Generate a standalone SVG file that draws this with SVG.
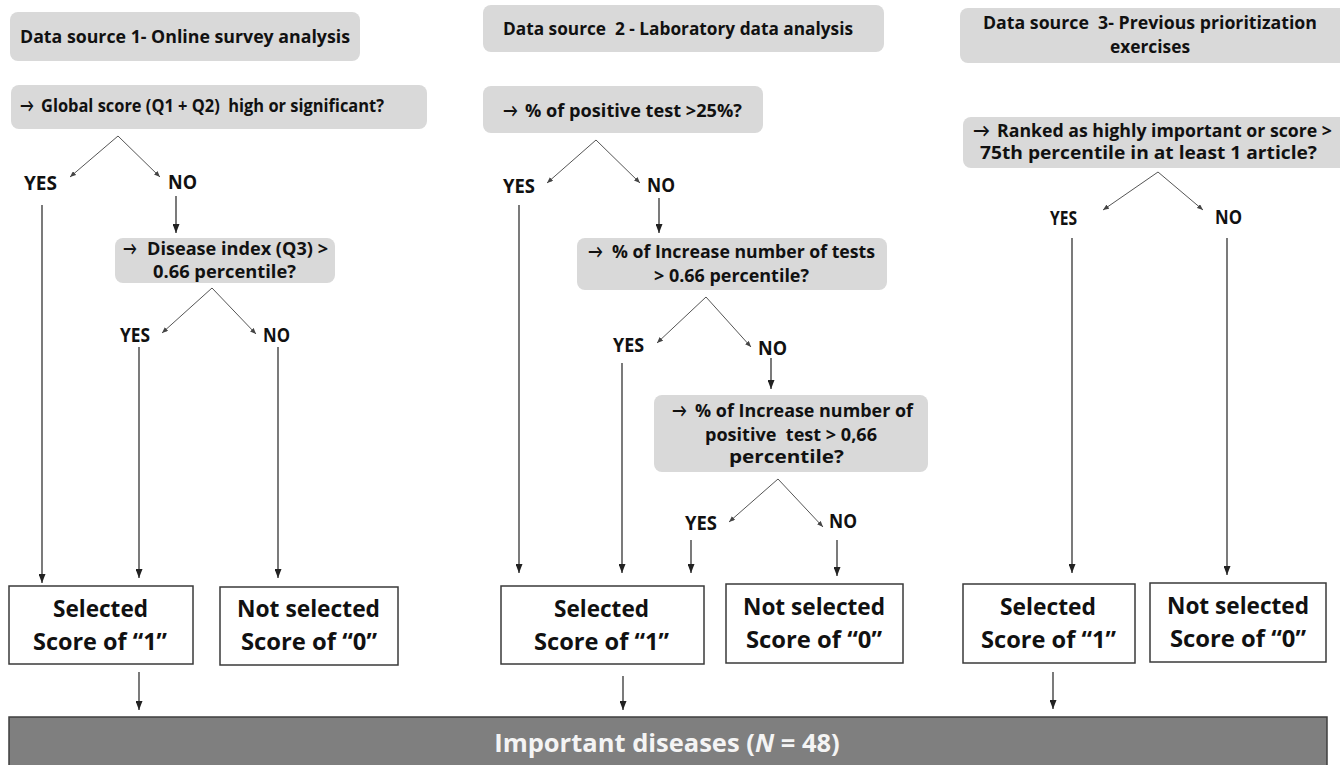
<svg xmlns="http://www.w3.org/2000/svg" width="1340" height="765" viewBox="0 0 1340 765">
<style>
.bg{fill:#ffffff}
.g{fill:#d9d9d9}
.res{fill:#ffffff;stroke:#3a3a3a;stroke-width:1.5}
.bar{fill:#7f7f7f;stroke:#3f3f3f;stroke-width:1.5}
.t{font-family:"Open Sans","Liberation Sans",sans-serif;font-weight:700;fill:#111111;white-space:pre}
.ar{font-family:Lato,"DejaVu Sans",sans-serif;font-weight:700;font-size:18px;fill:#111111}
.h{font-size:18px}
.q{font-size:18px}
.yn{font-size:19px}
.r{font-size:22.5px}
.bt{font-size:25.5px;fill:#f4f4f4}
.v{stroke:#333333;stroke-width:1.3;fill:none;marker-end:url(#ah)}
.d{stroke:#555555;stroke-width:1;fill:none;marker-end:url(#as)}
</style>
<defs>
<marker id="ah" viewBox="0 0 9 7" refX="9" refY="3.5" markerWidth="9" markerHeight="7" markerUnits="userSpaceOnUse" orient="auto">
<path d="M0,0 L9,3.5 L0,7 z" fill="#222222"/>
</marker>
<marker id="as" viewBox="0 0 6 5" refX="6" refY="2.5" markerWidth="6" markerHeight="5" markerUnits="userSpaceOnUse" orient="auto">
<path d="M0,0 L6,2.5 L0,5 z" fill="#444444"/>
</marker>
</defs>
<rect class="bg" x="0" y="0" width="1340" height="765"/>

<g id="h1"><rect class="g" x="10" y="12" width="350" height="49" rx="8"/>
<text class="t h" x="20" y="43" textLength="330" lengthAdjust="spacingAndGlyphs">Data source 1- Online survey analysis</text></g>
<g id="q1"><rect class="g" x="11" y="85" width="416" height="44" rx="8"/>
<text class="ar" x="20" y="112" textLength="14" lengthAdjust="spacingAndGlyphs">→</text>
<text class="t q" x="41" y="112" textLength="343" lengthAdjust="spacingAndGlyphs">Global score (Q1 + Q2)  high or significant?</text></g>
<g id="yes1"><text class="t yn" x="24" y="190" textLength="33" lengthAdjust="spacingAndGlyphs">YES</text></g>
<g id="no1"><text class="t yn" x="168" y="189" textLength="29" lengthAdjust="spacingAndGlyphs">NO</text></g>
<g id="q1b"><rect class="g" x="115" y="238" width="220" height="45" rx="8"/>
<text class="ar" x="123" y="255" textLength="14" lengthAdjust="spacingAndGlyphs">→</text>
<text class="t q" x="147" y="255" textLength="181" lengthAdjust="spacingAndGlyphs">Disease index (Q3) &gt;</text>
<text class="t q" x="153" y="278" textLength="143" lengthAdjust="spacingAndGlyphs">0.66 percentile?</text></g>
<g id="yes1b"><text class="t yn" x="120" y="342" textLength="30" lengthAdjust="spacingAndGlyphs">YES</text></g>
<g id="no1b"><text class="t yn" x="263" y="342" textLength="27" lengthAdjust="spacingAndGlyphs">NO</text></g>
<g id="sel1"><rect class="res" x="9" y="586" width="184" height="78"/>
<text class="t r" x="53" y="617" textLength="95" lengthAdjust="spacingAndGlyphs">Selected</text>
<text class="t r" x="33" y="650" textLength="134" lengthAdjust="spacingAndGlyphs">Score of “1”</text></g>
<g id="not1"><rect class="res" x="220" y="587" width="178" height="78"/>
<text class="t r" x="237" y="617" textLength="143" lengthAdjust="spacingAndGlyphs">Not selected</text>
<text class="t r" x="241" y="650" textLength="136" lengthAdjust="spacingAndGlyphs">Score of “0”</text></g>

<g id="h2"><rect class="g" x="483" y="5" width="401" height="47" rx="8"/>
<text class="t h" x="503" y="35" textLength="350" lengthAdjust="spacingAndGlyphs">Data source  2 - Laboratory data analysis</text></g>
<g id="q2"><rect class="g" x="483" y="86" width="280" height="47" rx="8"/>
<text class="ar" x="503" y="117" textLength="15" lengthAdjust="spacingAndGlyphs">→</text>
<text class="t q" x="525" y="117" textLength="217" lengthAdjust="spacingAndGlyphs">% of positive test &gt;25%?</text></g>
<g id="yes2"><text class="t yn" x="503" y="193" textLength="32" lengthAdjust="spacingAndGlyphs">YES</text></g>
<g id="no2"><text class="t yn" x="647" y="192" textLength="28" lengthAdjust="spacingAndGlyphs">NO</text></g>
<g id="q2b"><rect class="g" x="577" y="238" width="310" height="52" rx="8"/>
<text class="ar" x="588" y="258" textLength="15" lengthAdjust="spacingAndGlyphs">→</text>
<text class="t q" x="612" y="258" textLength="263" lengthAdjust="spacingAndGlyphs">% of Increase number of tests</text>
<text class="t q" x="654" y="282" textLength="155" lengthAdjust="spacingAndGlyphs">&gt; 0.66 percentile?</text></g>
<g id="yes2b"><text class="t yn" x="613" y="352" textLength="31" lengthAdjust="spacingAndGlyphs">YES</text></g>
<g id="no2b"><text class="t yn" x="758" y="355" textLength="29" lengthAdjust="spacingAndGlyphs">NO</text></g>
<g id="q2c"><rect class="g" x="654" y="395" width="274" height="77" rx="8"/>
<text class="ar" x="672" y="417" textLength="15" lengthAdjust="spacingAndGlyphs">→</text>
<text class="t q" x="695" y="417" textLength="218" lengthAdjust="spacingAndGlyphs">% of Increase number of</text>
<text class="t q" x="705" y="441" textLength="172" lengthAdjust="spacingAndGlyphs">positive  test &gt; 0,66</text>
<text class="t q" x="729" y="463" textLength="115" lengthAdjust="spacingAndGlyphs">percentile?</text></g>
<g id="yes2c"><text class="t yn" x="685" y="530" textLength="32" lengthAdjust="spacingAndGlyphs">YES</text></g>
<g id="no2c"><text class="t yn" x="829" y="528" textLength="28" lengthAdjust="spacingAndGlyphs">NO</text></g>
<g id="sel2"><rect class="res" x="501" y="586" width="203" height="78"/>
<text class="t r" x="554" y="617" textLength="95" lengthAdjust="spacingAndGlyphs">Selected</text>
<text class="t r" x="534" y="650" textLength="135" lengthAdjust="spacingAndGlyphs">Score of “1”</text></g>
<g id="not2"><rect class="res" x="726" y="584" width="177" height="79"/>
<text class="t r" x="743" y="615" textLength="142" lengthAdjust="spacingAndGlyphs">Not selected</text>
<text class="t r" x="746" y="648" textLength="136" lengthAdjust="spacingAndGlyphs">Score of “0”</text></g>

<g id="h3"><rect class="g" x="960" y="8" width="390" height="55" rx="8"/>
<text class="t h" x="983" y="29" textLength="334" lengthAdjust="spacingAndGlyphs">Data source  3- Previous prioritization</text>
<text class="t h" x="1110" y="53" textLength="80" lengthAdjust="spacingAndGlyphs">exercises</text></g>
<g id="q3"><rect class="g" x="963" y="117" width="390" height="51" rx="8"/>
<text class="ar" x="973" y="137" textLength="17" lengthAdjust="spacingAndGlyphs">→</text>
<text class="t q" x="997" y="137" textLength="335" lengthAdjust="spacingAndGlyphs">Ranked as highly important or score &gt;</text>
<text class="t q" x="980" y="159" textLength="337" lengthAdjust="spacingAndGlyphs">75th percentile in at least 1 article?</text></g>
<g id="yes3"><text class="t yn" x="1050" y="225" textLength="27" lengthAdjust="spacingAndGlyphs">YES</text></g>
<g id="no3"><text class="t yn" x="1215" y="224" textLength="27" lengthAdjust="spacingAndGlyphs">NO</text></g>
<g id="sel3"><rect class="res" x="963" y="584" width="172" height="79"/>
<text class="t r" x="1000" y="615" textLength="96" lengthAdjust="spacingAndGlyphs">Selected</text>
<text class="t r" x="981" y="648" textLength="135" lengthAdjust="spacingAndGlyphs">Score of “1”</text></g>
<g id="not3"><rect class="res" x="1150" y="583" width="176" height="79"/>
<text class="t r" x="1167" y="614" textLength="142" lengthAdjust="spacingAndGlyphs">Not selected</text>
<text class="t r" x="1170" y="647" textLength="136" lengthAdjust="spacingAndGlyphs">Score of “0”</text></g>

<g id="result"><rect class="bar" x="9" y="717" width="1318" height="52"/>
<text class="t bt" x="667" y="752" text-anchor="middle">Important diseases (<tspan font-style="italic">N</tspan> = 48)</text></g>

<g id="connectors">
<line class="d" x1="118" y1="136" x2="70" y2="177"/>
<line class="d" x1="118" y1="136" x2="160" y2="177"/>
<line class="v" x1="42" y1="205" x2="42" y2="583"/>
<line class="v" x1="176" y1="196" x2="176" y2="233"/>
<line class="d" x1="212" y1="288" x2="162" y2="333"/>
<line class="d" x1="212" y1="288" x2="256" y2="334"/>
<line class="v" x1="139" y1="347" x2="139" y2="578"/>
<line class="v" x1="278" y1="347" x2="278" y2="578"/>
<line class="v" x1="139" y1="672" x2="139" y2="710"/>

<line class="d" x1="596" y1="140" x2="547" y2="183"/>
<line class="d" x1="596" y1="140" x2="640" y2="183"/>
<line class="v" x1="519" y1="205" x2="519" y2="573"/>
<line class="v" x1="659" y1="198" x2="659" y2="233"/>
<line class="d" x1="706" y1="297" x2="657" y2="343"/>
<line class="d" x1="706" y1="297" x2="751" y2="347"/>
<line class="v" x1="622" y1="363" x2="622" y2="573"/>
<line class="v" x1="771" y1="358" x2="771" y2="389"/>
<line class="d" x1="778" y1="479" x2="729" y2="522"/>
<line class="d" x1="778" y1="479" x2="823" y2="527"/>
<line class="v" x1="691" y1="540" x2="691" y2="573"/>
<line class="v" x1="837" y1="540" x2="837" y2="576"/>
<line class="v" x1="623" y1="676" x2="623" y2="710"/>

<line class="d" x1="1158" y1="172" x2="1103" y2="210"/>
<line class="d" x1="1158" y1="172" x2="1203" y2="210"/>
<line class="v" x1="1072" y1="238" x2="1072" y2="573"/>
<line class="v" x1="1227" y1="238" x2="1227" y2="575"/>
<line class="v" x1="1053" y1="672" x2="1053" y2="709"/>
</g>
</svg>
